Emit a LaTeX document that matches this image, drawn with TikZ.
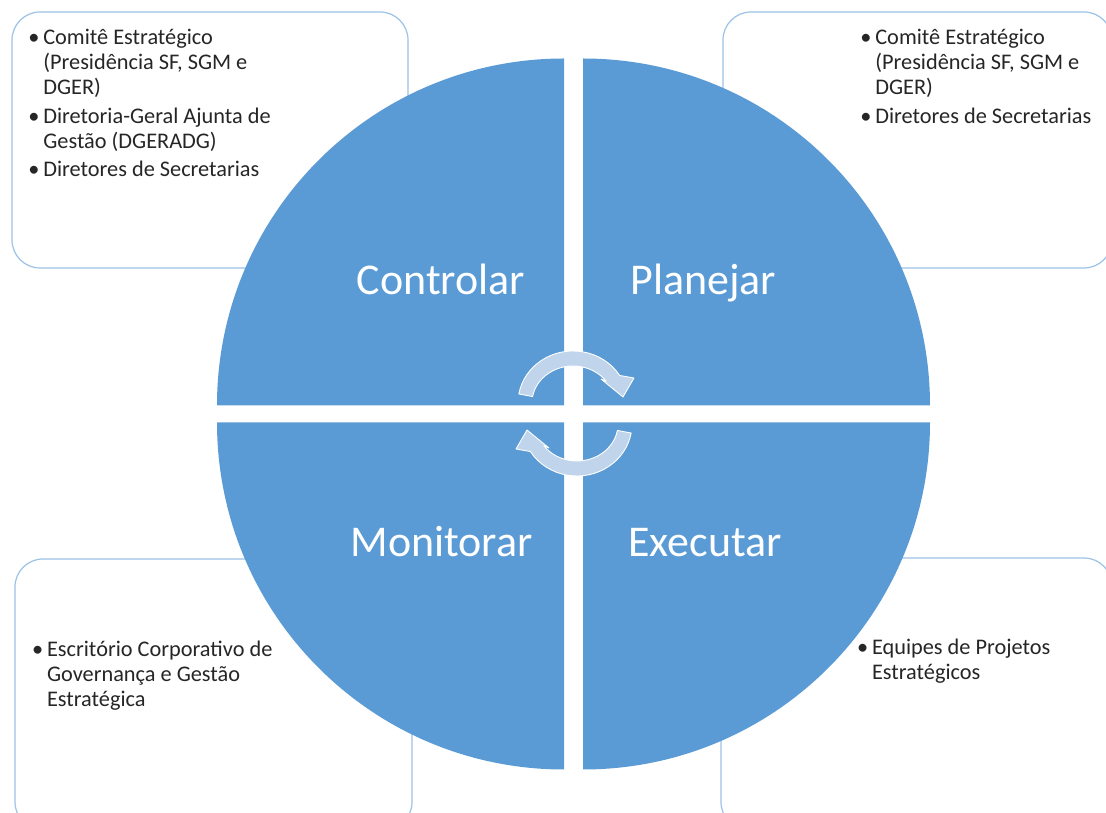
\documentclass[tikz,border=0pt]{standalone}
\usepackage{fontspec}
\setmainfont{Carlito}
\usetikzlibrary{calc}
\definecolor{quadblue}{HTML}{5B9BD5}
\definecolor{boxblue}{HTML}{9DC3E6}
\definecolor{arrowblue}{HTML}{C0D5EC}
\newcommand{\bul}{\textbullet}
\tikzset{
  boxstyle/.style={draw=boxblue, line width=0.7pt, rounded corners=0.56cm, fill=white},
  quadstyle/.style={fill=quadblue},
  quadlabel/.style={text=white, font=\fontsize{25}{30}\selectfont, inner sep=0pt, anchor=base},
  itemlist/.style={inner sep=0pt, anchor=base west, font=\fontsize{12.7}{14.2}\selectfont, text=black!85},
  arrowstyle/.style={fill=arrowblue, draw=white, line width=0.5pt, line join=round}
}

\begin{document}
\begin{tikzpicture}[x=0.02cm, y=-0.02cm]
    \useasboundingbox (0,0) rectangle (1106,813);

    % boxes behind the circle
    \draw[boxstyle] (12,12) rectangle (408,268);
    \draw[boxstyle] (723,12) rectangle (1112,268);
    \draw[boxstyle] (15,559) rectangle (412,830);
    \draw[boxstyle] (721,558) rectangle (1112,830);

    % four quarters
    \fill[quadstyle] (564,405.5) -- ++(-347,0) arc[start angle=180, end angle=270, radius=347] -- cycle;
    \fill[quadstyle] (583,405.5) -- ++(0,-347) arc[start angle=270, end angle=360, radius=347] -- cycle;
    \fill[quadstyle] (564,422.5) -- ++(0,347) arc[start angle=90, end angle=180, radius=347] -- cycle;
    \fill[quadstyle] (583,422.5) -- ++(347,0) arc[start angle=0, end angle=90, radius=347] -- cycle;

    \node(ctrl)[quadlabel] at (441,295) {Controlar};
    \node(plan)[quadlabel] at (703.5,295) {Planejar};
    \node(mon)[quadlabel] at (441.5,556.7) {Monitorar};
    \node(exec)[quadlabel] at (705,556.7) {Executar};

    % lists
    \node(ctrltxt)[itemlist] at (28,45) {\begin{tabular}[t]{@{}p{0.3cm}@{}l@{}}
      \bul & Comitê Estratégico\\
           & (Presidência SF, SGM e\\
           & DGER)\\[2pt]
      \bul & Diretoria-Geral Ajunta de\\
           & Gestão (DGERADG)\\[2pt]
      \bul & Diretores de Secretarias
    \end{tabular}};
    \node(plantxt)[itemlist] at (860,45) {\begin{tabular}[t]{@{}p{0.3cm}@{}l@{}}
      \bul & Comitê Estratégico\\
           & (Presidência SF, SGM e\\
           & DGER)\\[2pt]
      \bul & Diretores de Secretarias
    \end{tabular}};
    \node(montxt)[itemlist] at (31.7,656.7) {\begin{tabular}[t]{@{}p{0.3cm}@{}l@{}}
      \bul & Escritório Corporativo de\\
           & Governança e Gestão\\
           & Estratégica
    \end{tabular}};
    \node(exectxt)[itemlist] at (856.7,655) {\begin{tabular}[t]{@{}p{0.3cm}@{}l@{}}
      \bul & Equipes de Projetos\\
           & Estratégicos
    \end{tabular}};

    % cycle arrows
    \begin{scope}[shift={(573,403)}, yscale=-1]
      \filldraw[arrowstyle] (170:55 and 52) arc[start angle=170, end angle=32, x radius=55, y radius=52]
        -- (61,25) -- (50,6) -- (28,24) -- (36:41 and 37)
        arc[start angle=36, end angle=170, x radius=41, y radius=37] -- cycle;
    \end{scope}
    \begin{scope}[shift={(577,424)}, rotate=180, yscale=-1]
      \filldraw[arrowstyle] (170:55 and 52) arc[start angle=170, end angle=32, x radius=55, y radius=52]
        -- (61,25) -- (50,6) -- (28,24) -- (36:41 and 37)
        arc[start angle=36, end angle=170, x radius=41, y radius=37] -- cycle;
    \end{scope}

\end{tikzpicture}
\end{document}
